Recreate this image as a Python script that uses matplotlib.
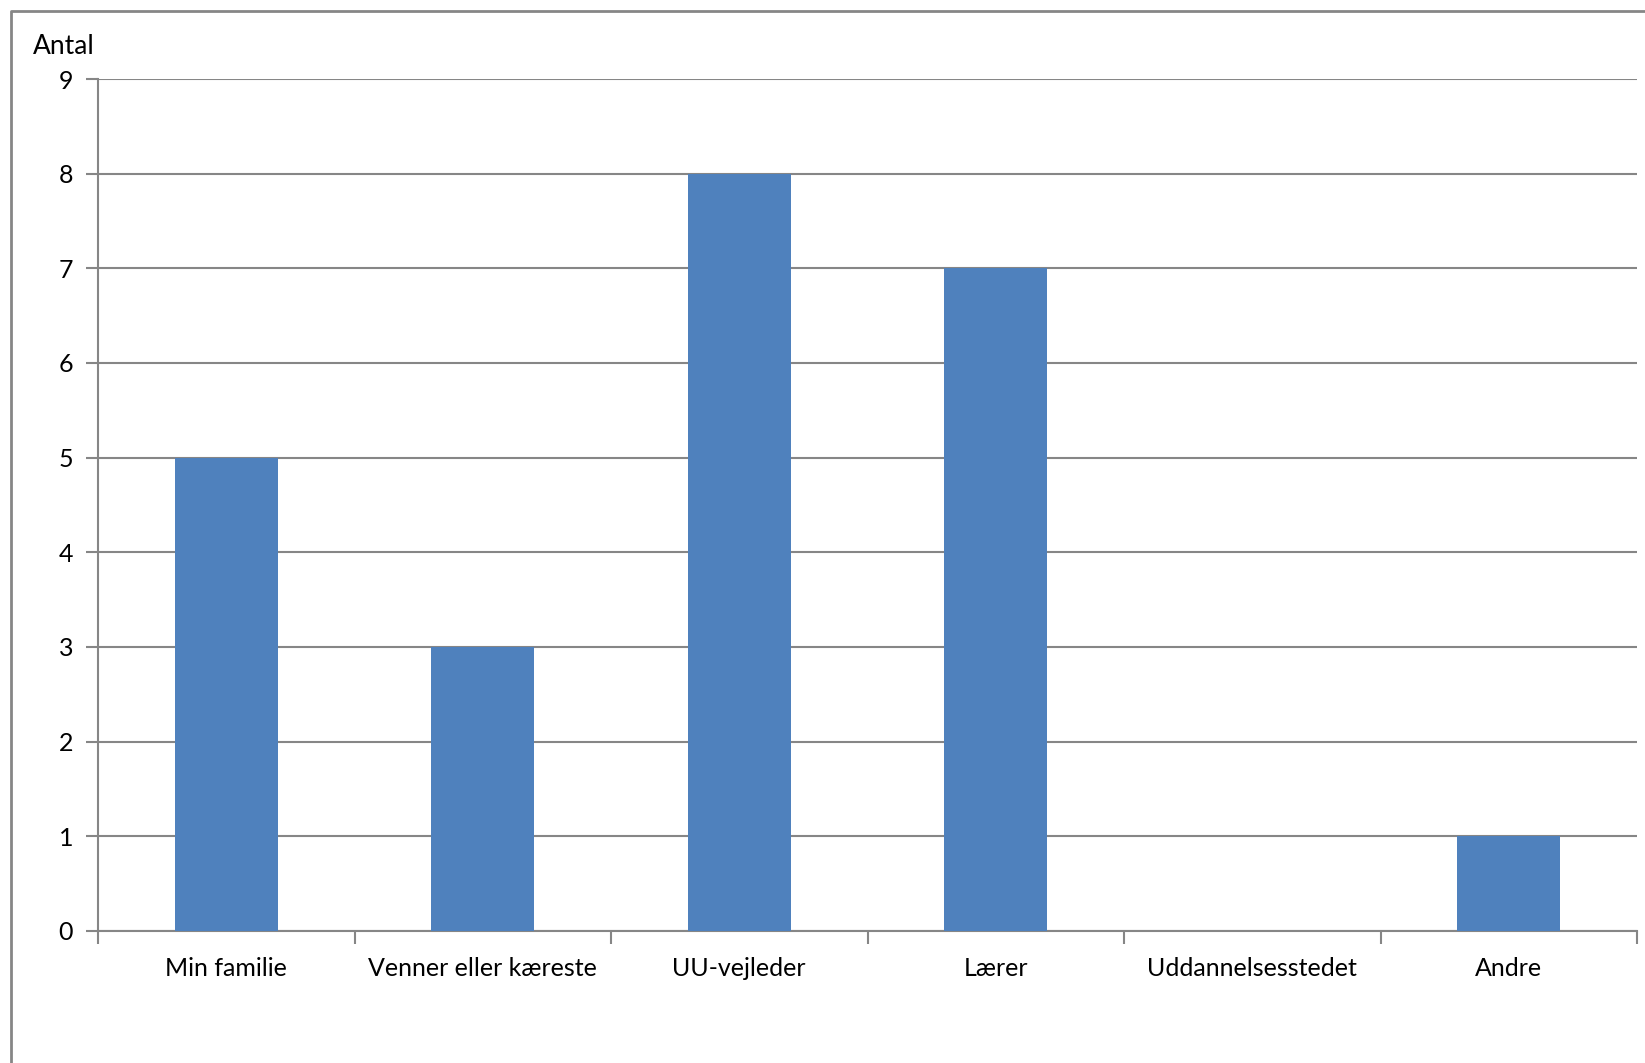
import matplotlib
matplotlib.use("Agg")
import matplotlib.pyplot as plt
from matplotlib.lines import Line2D

categories = ["Min familie", "Venner eller kæreste", "UU-vejleder", "Lærer", "Uddannelsesstedet", "Andre"]
values = [5, 3, 8, 7, 0, 1]
yticks = [0, 1, 2, 3, 4, 5, 6, 7, 8, 9]
ylabel = "Antal"

W, H = 1645, 1063
plt.rcParams['font.family'] = ['Lato', 'DejaVu Sans']
fig = plt.figure(figsize=(W / 100, H / 100), dpi=100)
grey = "#868686"

left, right, top, bottom = 98, 1637, 79, 931
ax = fig.add_axes([left / W, 1 - bottom / H, (right - left) / W, (bottom - top) / H])

x = list(range(len(categories)))
ax.bar(x, values, width=0.4, color="#4F81BD", zorder=3)
ax.set_xlim(-0.5, len(categories) - 0.5)
ax.set_ylim(0, 9)
ax.set_yticks(yticks)
ax.set_yticklabels([str(v) for v in yticks])
ax.yaxis.grid(True, color=grey, linewidth=1.5, zorder=0)
ax.set_axisbelow(True)

ax.set_xticks(x)
ax.set_xticklabels(categories)
ax.set_xticks([i - 0.5 for i in range(len(categories) + 1)], minor=True)
ax.tick_params(axis='x', which='major', length=0, pad=19, labelsize=18)
ax.tick_params(axis='x', which='minor', length=9, width=1.5, color=grey, direction='out')
ax.tick_params(axis='y', length=9, width=1.5, color=grey, pad=9, labelsize=18)

for s in ["top", "right"]:
    ax.spines[s].set_visible(False)
for s in ["left", "bottom"]:
    ax.spines[s].set_color(grey)
    ax.spines[s].set_linewidth(1.5)

fig.text(33 / W, 1 - 47 / H, ylabel, fontsize=19, ha='left', va='center')

# outer chart frame (partially visible)
fig.add_artist(Line2D([11 / W, 11 / W, 1.01], [-0.01, 1 - 11 / H, 1 - 11 / H],
                      transform=fig.transFigure, color=grey, linewidth=2))

fig.savefig("out.png", dpi=100, facecolor="white")
